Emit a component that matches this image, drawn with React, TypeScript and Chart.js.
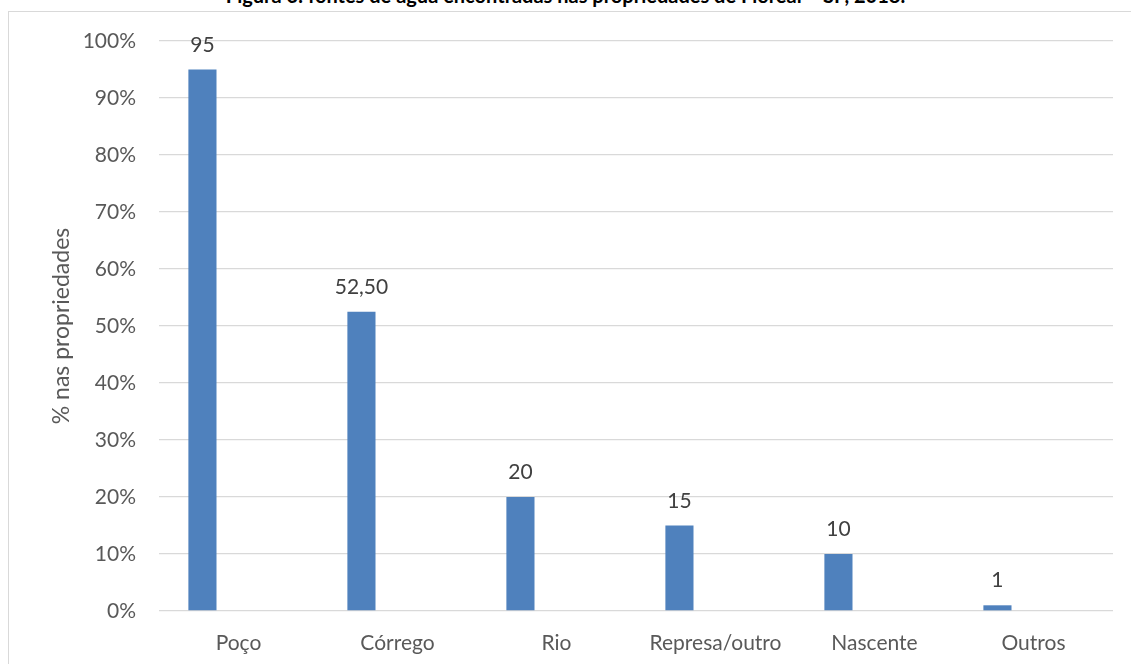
import { useEffect, useRef } from "react";
import { Chart, registerables } from "chart.js";

Chart.register(...registerables);

// Water sources found on the surveyed properties
const categories = ["Poço", "Córrego", "Rio", "Represa/outro", "Nascente", "Outros"];
const shares = [95, 52.5, 20, 15, 10, 1];
const secondSeries = [null, null, null, null, null, null];
const yTickValues = [0, 10, 20, 30, 40, 50, 60, 70, 80, 90, 100];

const FONT = "Lato, 'Noto Sans', sans-serif";
const BAR_COLOR = "#4f81bd";
const GRID_COLOR = "#d9d9d9";
const TICK_COLOR = "#595959";
const LABEL_COLOR = "#404040";

const formatValue = (v: number) =>
  Number.isInteger(v) ? String(v) : v.toFixed(2).replace(".", ",");

const valueLabels = {
  id: "valueLabels",
  afterDatasetsDraw(chart: any) {
    const ctx = chart.ctx;
    const meta = chart.getDatasetMeta(0);
    ctx.save();
    ctx.font = `21px ${FONT}`;
    ctx.fillStyle = LABEL_COLOR;
    ctx.textAlign = "center";
    ctx.textBaseline = "alphabetic";
    meta.data.forEach((el: any, i: number) => {
      ctx.fillText(formatValue(shares[i]), el.x, el.y - 18);
    });
    ctx.restore();
  },
};

export default function App() {
  const canvasRef = useRef<HTMLCanvasElement | null>(null);

  useEffect(() => {
    if (!canvasRef.current) return;
    const chart = new Chart(canvasRef.current, {
      type: "bar",
      data: {
        labels: categories,
        datasets: [
          {
            label: "% nas propriedades",
            data: shares,
            backgroundColor: BAR_COLOR,
            borderWidth: 0,
            categoryPercentage: 0.907,
            barPercentage: 0.39,
          },
          {
            label: "",
            data: secondSeries as any,
            backgroundColor: "#c0504d",
            borderWidth: 0,
            categoryPercentage: 0.907,
            barPercentage: 0.39,
          },
        ],
      },
      options: {
        animation: false,
        responsive: false,
        maintainAspectRatio: false,
        devicePixelRatio: 1,
        layout: { padding: { left: 0, top: 41, right: 18, bottom: 0 } },
        plugins: {
          legend: { display: false },
          tooltip: { enabled: false },
          title: { display: false },
        },
        scales: {
          x: {
            grid: { display: false },
            border: { display: false },
            ticks: {
              color: TICK_COLOR,
              font: { family: FONT, size: 21 },
              padding: 12,
              maxRotation: 0,
              autoSkip: false,
            },
            afterFit(scale: any) {
              scale.height = 53;
            },
          },
          y: {
            min: 0,
            max: 100,
            afterBuildTicks(scale: any) {
              scale.ticks = yTickValues.map((v) => ({ value: v }));
            },
            grid: { color: GRID_COLOR, lineWidth: 1.3, drawTicks: false },
            border: { display: false },
            ticks: {
              color: TICK_COLOR,
              font: { family: FONT, size: 21 },
              padding: 23,
              callback: (v: any) => `${v}%`,
            },
            title: {
              display: true,
              text: "% nas propriedades",
              color: TICK_COLOR,
              font: { family: FONT, size: 23 },
              padding: { top: 48, bottom: 0 },
            },
            afterFit(scale: any) {
              scale.width = 159;
            },
          },
        },
      },
      plugins: [valueLabels],
    });
    return () => chart.destroy();
  }, []);

  return (
    <div
      style={{
        position: "absolute",
        left: 0,
        top: 0,
        width: 1131,
        height: 664,
        overflow: "hidden",
        background: "#ffffff",
      }}
    >
      <div
        style={{
          position: "absolute",
          left: 0,
          right: 0,
          top: -15,
          textAlign: "center",
          fontFamily: FONT,
          fontWeight: 700,
          fontSize: 20,
          lineHeight: "20px",
          color: "#000000",
          whiteSpace: "nowrap",
        }}
      >
        Figura 6: fontes de água encontradas nas propriedades de Floreal – SP, 2018.
      </div>
      <div
        style={{
          position: "absolute",
          left: 8,
          top: 11,
          width: 1200,
          height: 700,
          border: `1.5px solid ${GRID_COLOR}`,
          boxSizing: "border-box",
        }}
      />
      <canvas
        ref={canvasRef}
        width={1131}
        height={664}
        style={{ position: "absolute", left: 0, top: 0, width: 1131, height: 664 }}
      />
    </div>
  );
}
